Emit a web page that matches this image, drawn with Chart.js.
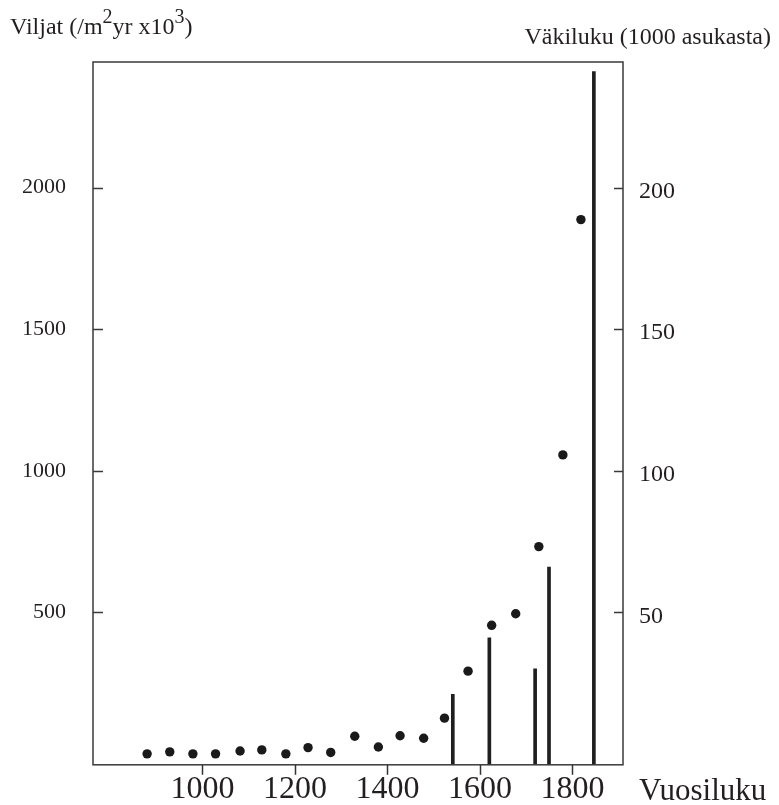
<!DOCTYPE html>
<html><head><meta charset="utf-8">
<script src="https://cdn.jsdelivr.net/npm/chart.js@4.4.0/dist/chart.umd.min.js"></script>
<style>html,body{margin:0;padding:0;background:#fff;}#wrap{position:relative;width:779px;height:805px;}</style>
</head><body><div id="wrap"><canvas id="c" width="779" height="805"></canvas></div>
<script>
// Cereal pollen (left axis)
const pollenYears  = [880, 929, 979, 1028, 1081, 1128, 1180, 1228, 1277, 1329, 1380, 1427, 1478, 1523, 1574, 1625, 1677, 1727, 1779, 1818];
const pollenValues = [0, 7, 0, 0, 10, 14, 0, 22, 5, 62, 24, 64, 55, 126, 292, 454, 495, 732, 1056, 1887];
// Population, 1000 inhabitants (right axis)
const popYears  = [1541, 1620, 1719, 1749, 1846];
const popValues = [21, 41, 30, 66, 241];
// Tick labels
const xTicks = [1000, 1200, 1400, 1600, 1800];
const leftTicks = [500, 1000, 1500, 2000];
const rightTicks = [50, 100, 150, 200];
const xTitle = "Vuosiluku";
const rightTitle = "Väkiluku (1000 asukasta)";
const leftTitleParts = [["Viljat (/m", false], ["2", true], ["yr x10", false], ["3", true], [")", false]];

const X_MIN = 763, X_MAX = 1909;
const L_MIN = -38.7, L_MAX = 2443.7;
const R_MIN = -3.87, R_MAX = 244.37;

const INK = '#231f20';
const SERIF = '"Liberation Serif", "DejaVu Serif", serif';

const decor = {
  id: 'decor',
  afterDatasetsDraw(chart) {
    const ctx = chart.ctx, a = chart.chartArea;
    ctx.save();
    ctx.strokeStyle = '#3a3a3a';
    ctx.lineWidth = 1.5;
    ctx.strokeRect(a.left, a.top, a.right - a.left, a.bottom - a.top);
    // inward ticks on y axes
    const yl = chart.scales.y, yr = chart.scales.y2;
    ctx.beginPath();
    leftTicks.forEach(v => { const p = Math.round(yl.getPixelForValue(v)) + 0.5; ctx.moveTo(a.left, p); ctx.lineTo(a.left + 10, p); });
    rightTicks.forEach(v => { const p = Math.round(yr.getPixelForValue(v)) + 0.5; ctx.moveTo(a.right, p); ctx.lineTo(a.right - 9, p); });
    ctx.stroke();
    ctx.restore();
  },
  afterDraw(chart) {
    const ctx = chart.ctx;
    ctx.save();
    ctx.fillStyle = INK;
    ctx.textBaseline = 'alphabetic';
    // left title with superscripts
    let x = 10;
    leftTitleParts.forEach(([t, sup]) => {
      ctx.font = (sup ? '20px ' : '24px ') + SERIF;
      ctx.fillText(t, x, sup ? 23 : 34);
      x += ctx.measureText(t).width;
    });
    ctx.font = '24px ' + SERIF;
    ctx.textAlign = 'right';
    ctx.fillText(rightTitle, 771, 44);
    ctx.font = '31px ' + SERIF;
    ctx.textAlign = 'left';
    ctx.fillText(xTitle, 639, 800);
    ctx.restore();
  }
};

new Chart(document.getElementById('c'), {
  type: 'scatter',
  data: {
    datasets: [
      {
        type: 'scatter',
        data: pollenYears.map((yr, i) => ({x: yr, y: pollenValues[i]})),
        xAxisID: 'x', yAxisID: 'y',
        pointRadius: 4.7, pointBackgroundColor: '#1a1a1a', pointBorderWidth: 0,
        showLine: false
      },
      {
        type: 'bar',
        data: popYears.map((yr, i) => ({x: yr, y: popValues[i]})),
        xAxisID: 'x', yAxisID: 'y2',
        barThickness: 3, backgroundColor: '#1f1f1f', borderWidth: 0,
        base: R_MIN
      }
    ]
  },
  options: {
    responsive: false, animation: false, devicePixelRatio: 1,
    layout: {padding: {top: 62, left: 0, right: 0, bottom: 0}},
    plugins: {legend: {display: false}, tooltip: {enabled: false}},
    scales: {
      x: {
        type: 'linear', position: 'bottom', min: X_MIN, max: X_MAX, offset: false,
        afterBuildTicks: s => { s.ticks = xTicks.map(v => ({value: v})); },
        afterFit: s => { s.height = 38; },
        grid: {offset: false, drawOnChartArea: false, drawTicks: true, tickLength: 10, tickColor: '#333', tickWidth: 1.5, color: '#333'},
        border: {display: false},
        ticks: {color: INK, font: {family: SERIF, size: 32, lineHeight: 1}, padding: -1, maxRotation: 0, autoSkip: false, callback: v => String(v)}
      },
      y: {
        type: 'linear', position: 'left', min: L_MIN, max: L_MAX,
        afterBuildTicks: s => { s.ticks = leftTicks.map(v => ({value: v})); },
        afterFit: s => { s.width = 93; },
        grid: {display: false, drawTicks: false},
        border: {display: false},
        ticks: {color: INK, font: {family: SERIF, size: 22}, padding: 27, callback: v => String(v)}
      },
      y2: {
        type: 'linear', position: 'right', min: R_MIN, max: R_MAX,
        afterBuildTicks: s => { s.ticks = rightTicks.map(v => ({value: v})); },
        afterFit: s => { s.width = 156; },
        grid: {display: false, drawTicks: false},
        border: {display: false},
        ticks: {color: INK, font: {family: SERIF, size: 24}, padding: 16, crossAlign: 'near', labelOffset: 4, callback: v => String(v)}
      }
    }
  },
  plugins: [decor]
});
</script></body></html>
